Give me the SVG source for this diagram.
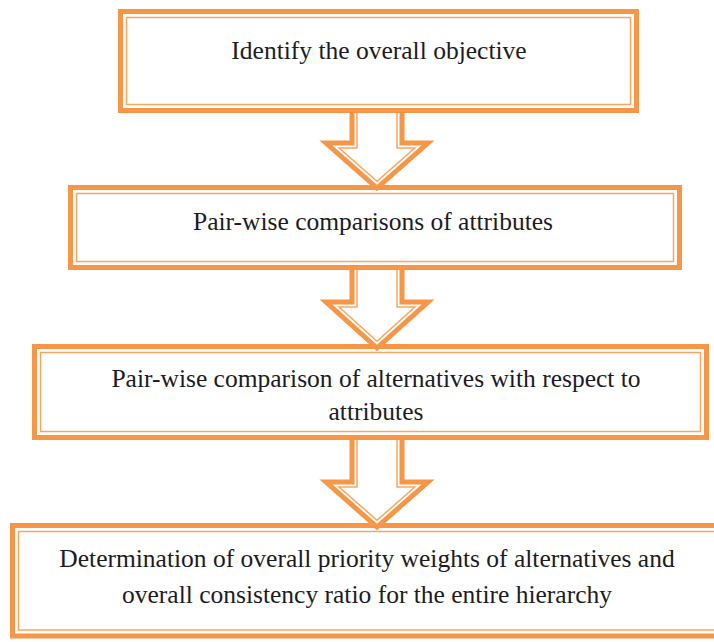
<svg xmlns="http://www.w3.org/2000/svg" width="714" height="642" viewBox="0 0 714 642">
  <style>
    .outer { fill: #ffffff; stroke: #F79646; stroke-width: 5; }
    .inner { fill: none; stroke: #F79646; stroke-width: 1.5; opacity: 0.85; }
    .arrow { fill: #ffffff; stroke: #F79646; stroke-width: 5; stroke-linejoin: miter; }
    .arrow-in { fill: none; stroke: #F79646; stroke-width: 1.5; opacity: 0.85; stroke-linejoin: miter; }
    .label { font-family: "Liberation Serif", "Times New Roman", serif; font-size: 25.5px; fill: #1c1c24; text-anchor: middle; }
  </style>
  <rect width="714" height="642" fill="#ffffff"/>

  <g id="step1">
    <rect class="outer" x="120.5" y="11.5" width="516" height="99"/>
    <rect class="inner" x="126.5" y="17.5" width="504" height="87"/>
    <text class="label" x="379" y="59">Identify the overall objective</text>
  </g>

  <g id="step2">
    <rect class="outer" x="70.5" y="187.5" width="609" height="80"/>
    <rect class="inner" x="76.5" y="193.5" width="597" height="68"/>
    <text class="label" x="373" y="230">Pair-wise comparisons of attributes</text>
  </g>

  <g id="step3">
    <rect class="outer" x="34.5" y="346.5" width="672" height="91"/>
    <rect class="inner" x="40.5" y="352.5" width="660" height="79"/>
    <text class="label" x="376" y="387">Pair-wise comparison of alternatives with respect to</text>
    <text class="label" x="376" y="420">attributes</text>
  </g>

  <g id="step4">
    <rect class="outer" x="12.5" y="525.5" width="720" height="110.5"/>
    <rect class="inner" x="18.5" y="531.5" width="708" height="98.5"/>
    <text class="label" x="367" y="567">Determination of overall priority weights of alternatives and</text>
    <text class="label" x="367" y="603">overall consistency ratio for the entire hierarchy</text>
  </g>

  <g id="connectors">
    <!-- block arrow: step1 -> step2 -->
    <path class="arrow" d="M352,113 V143 H326 L377,188 L428,143 H402 V113"/>
    <path class="arrow-in" d="M357,113 V148 H339.2 L377,181.3 L414.8,148 H397 V113"/>
    <!-- block arrow: step2 -> step3 -->
    <path class="arrow" d="M352,270 V302 H326 L377,348 L428,302 H402 V270"/>
    <path class="arrow-in" d="M357,270 V307 H339.2 L377,341.3 L414.8,307 H397 V270"/>
    <!-- block arrow: step3 -> step4 -->
    <path class="arrow" d="M352,440 V482 H326 L377,527 L428,482 H402 V440"/>
    <path class="arrow-in" d="M357,440 V487 H339.2 L377,520.3 L414.8,487 H397 V440"/>
  </g>
</svg>
